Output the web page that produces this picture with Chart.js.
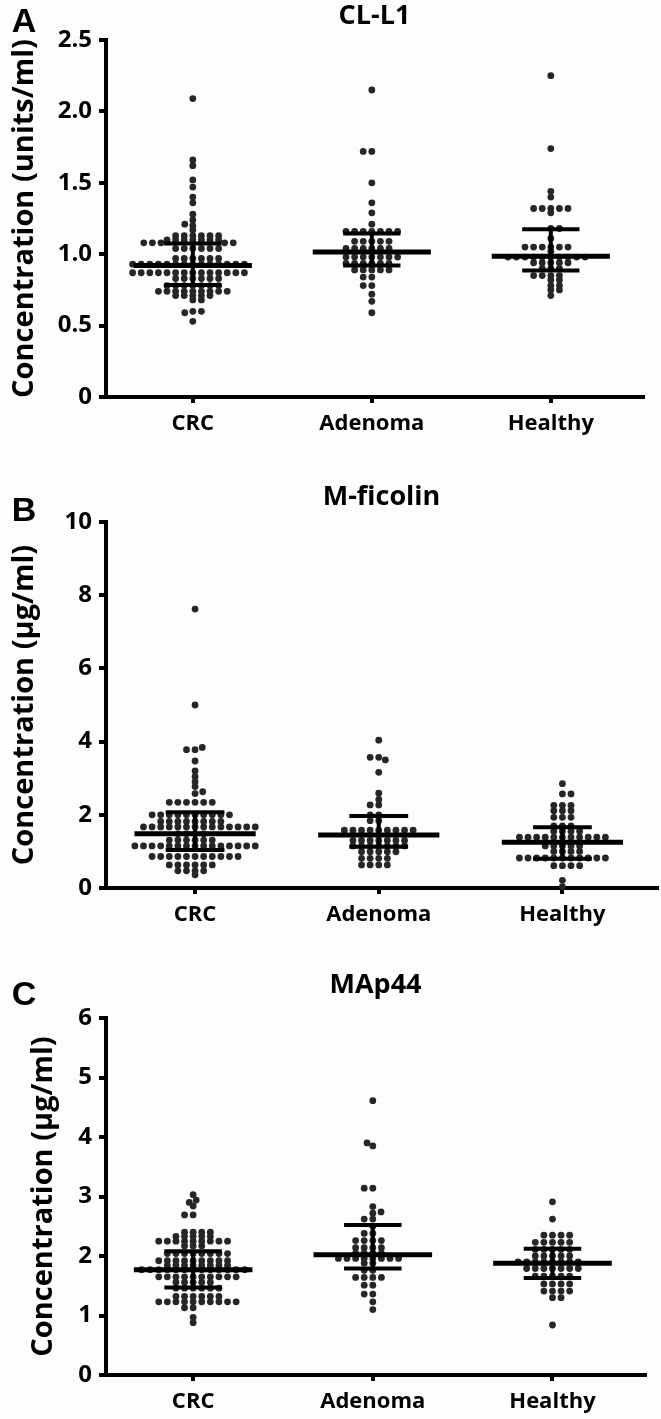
<!DOCTYPE html>
<html>
<head>
<meta charset="utf-8">
<script src="https://cdn.jsdelivr.net/npm/chart.js@4.4.1/dist/chart.umd.min.js"></script>
<style>
  body { margin: 0; background: #fdfdfd; }
  canvas { display: block; }
</style>
</head>
<body>
<canvas id="chartA" width="661" height="460"></canvas>
<canvas id="chartB" width="661" height="480"></canvas>
<canvas id="chartC" width="661" height="479"></canvas>
<script>
const groups = ["CRC", "Adenoma", "Healthy"];

// A: CL-L1 (units/ml)
const clCRC = [2.09, 1.66, 1.62, 1.52, 1.47, 1.40, 1.36, 1.28, 1.24, 1.21, 1.20, 1.17,
  1.13, 1.13, 1.13, 1.13, 1.13, 1.13,
  1.10, 1.10, 1.10, 1.10, 1.10, 1.10, 1.10,
  1.08, 1.08, 1.08, 1.08, 1.08,
  1.04, 1.04, 1.04, 1.04, 1.04, 1.04,
  0.97, 0.97, 0.97, 0.97, 0.97, 0.97,
  0.93, 0.93, 0.93, 0.93, 0.93, 0.93, 0.93, 0.93, 0.93, 0.93, 0.93, 0.93, 0.93, 0.93,
  0.87, 0.87, 0.87, 0.87, 0.87, 0.87, 0.87, 0.87, 0.87, 0.87, 0.87, 0.87, 0.87, 0.87,
  0.83, 0.83, 0.83, 0.83, 0.83, 0.83,
  0.78, 0.78, 0.78, 0.78, 0.78, 0.78, 0.78,
  0.74, 0.74, 0.74, 0.74, 0.74, 0.74, 0.74, 0.74, 0.74,
  0.71, 0.71, 0.71, 0.71, 0.71,
  0.68, 0.68, 0.60, 0.60, 0.59, 0.53];
const clAdenoma = [2.15, 1.72, 1.72, 1.50, 1.36, 1.29, 1.21,
  1.16, 1.16, 1.16, 1.16, 1.16, 1.16, 1.16,
  1.09, 1.09, 1.09, 1.09, 1.09,
  1.04, 1.04, 1.04, 1.04, 1.04, 1.04,
  0.98, 0.98, 0.98, 0.98, 0.98, 0.98, 0.98,
  0.935, 0.935, 0.935, 0.935, 0.935, 0.935,
  0.89, 0.89, 0.89, 0.89, 0.89,
  0.84, 0.84, 0.78, 0.78, 0.72, 0.67, 0.59];
const clHealthy = [2.25, 1.74, 1.44, 1.40, 1.32, 1.32, 1.32, 1.32, 1.32, 1.29, 1.18, 1.18, 1.11,
  1.05, 1.05, 1.05, 1.05, 1.05, 1.05, 1.02,
  0.98, 0.98, 0.98, 0.98, 0.98, 0.98, 0.98, 0.98, 0.98, 0.98,
  0.94, 0.94, 0.94, 0.94, 0.94,
  0.90, 0.90, 0.90, 0.85, 0.85, 0.85, 0.85,
  0.82, 0.82, 0.78, 0.78, 0.75, 0.75, 0.71];
const clMedian = [0.92, 1.015, 0.985];
const clQ1 = [0.785, 0.92, 0.885];
const clQ3 = [1.075, 1.145, 1.175];
const clTicks = ["0", "0.5", "1.0", "1.5", "2.0", "2.5"];

// B: M-ficolin (µg/ml)
const mfCRC = [7.62, 5.0, 3.84, 3.78, 3.78, 3.47, 3.20, 3.04, 2.90, 2.77, 2.63, 2.58,
  2.34, 2.34, 2.34, 2.34, 2.34, 2.34,
  2.0, 2.0, 2.0, 2.0, 2.0, 2.0, 2.0, 2.0, 2.0, 2.0,
  1.82, 1.82, 1.82, 1.82, 1.82, 1.82, 1.82, 1.82,
  1.67, 1.67, 1.67, 1.67, 1.67, 1.67, 1.67, 1.67, 1.67, 1.67, 1.67, 1.67, 1.67, 1.67,
  1.48, 1.48, 1.48, 1.48,
  1.31, 1.31, 1.31, 1.31, 1.31, 1.31,
  1.15, 1.15, 1.15, 1.15, 1.15, 1.15, 1.15, 1.15, 1.15, 1.15, 1.15, 1.15, 1.15, 1.15, 1.15,
  0.86, 0.86, 0.86, 0.86, 0.86, 0.86, 0.86, 0.86, 0.86, 0.86, 0.86,
  0.63, 0.63, 0.63, 0.63, 0.63, 0.63,
  0.47, 0.47, 0.47, 0.47, 0.36];
const mfAdenoma = [4.04, 3.57, 3.57, 3.50, 3.16, 2.59, 2.42, 2.27, 2.27, 2.0, 2.0, 1.84, 1.84,
  1.58, 1.58, 1.58, 1.58, 1.58, 1.58, 1.58, 1.58, 1.58,
  1.30, 1.30, 1.30, 1.30, 1.30, 1.30, 1.30,
  1.15, 1.15, 1.15, 1.15, 1.15, 1.15, 1.15,
  0.99, 0.99, 0.99, 0.99, 0.99,
  0.81, 0.81, 0.81, 0.81,
  0.63, 0.63, 0.63, 0.63];
const mfHealthy = [2.85, 2.57, 2.57, 2.26, 2.26, 2.26, 2.11, 2.11, 2.11, 1.93, 1.93, 1.93,
  1.70, 1.70, 1.70, 1.55, 1.55, 1.55, 1.55,
  1.39, 1.39, 1.39, 1.39, 1.39, 1.39, 1.39, 1.39, 1.39, 1.39, 1.39,
  1.15, 1.15, 1.15, 1.15, 1.15,
  1.0, 1.0, 1.0, 1.0,
  0.82, 0.82, 0.82, 0.82, 0.82, 0.82, 0.82, 0.82, 0.82, 0.82, 0.82,
  0.61, 0.61, 0.61, 0.61, 0.21, 0.04];
const mfMedian = [1.48, 1.45, 1.25];
const mfQ1 = [1.04, 1.13, 0.80];
const mfQ3 = [2.07, 1.97, 1.66];
const mfTicks = ["0", "2", "4", "6", "8", "10"];

// C: MAp44 (µg/ml)
const mapCRC = [3.03, 2.94, 2.90, 2.84, 2.69, 2.69,
  2.40, 2.40, 2.40, 2.40,
  2.33, 2.33, 2.33, 2.33, 2.33,
  2.25, 2.25, 2.25, 2.25, 2.25, 2.25, 2.25, 2.25, 2.25,
  2.17, 2.17, 2.17,
  2.04, 2.04, 2.04, 2.04, 2.04, 2.04, 2.04, 2.04,
  1.92, 1.92, 1.92, 1.92, 1.92, 1.92, 1.92, 1.92, 1.92,
  1.84, 1.84, 1.84, 1.84, 1.84, 1.84, 1.84, 1.84,
  1.77, 1.77, 1.77, 1.77, 1.77, 1.77, 1.77, 1.77, 1.77, 1.77, 1.77, 1.77, 1.77,
  1.65, 1.65, 1.65, 1.65, 1.65, 1.65, 1.65, 1.65, 1.65, 1.65,
  1.56, 1.56, 1.56, 1.56, 1.56,
  1.46, 1.46, 1.46, 1.46, 1.46, 1.46,
  1.32, 1.32, 1.32, 1.32, 1.32, 1.32,
  1.23, 1.23, 1.23, 1.23, 1.23, 1.23, 1.23, 1.23, 1.23, 1.23,
  1.13, 1.13, 0.97, 0.88];
const mapAdenoma = [4.61, 3.90, 3.85, 3.14, 3.14, 2.83, 2.74, 2.72, 2.62, 2.62, 2.50, 2.38, 2.38,
  2.26, 2.26, 2.26, 2.26, 2.14, 2.14, 2.14, 2.14, 2.05, 2.05, 2.05, 2.05,
  1.96, 1.96, 1.96, 1.96, 1.96, 1.96, 1.96, 1.96,
  1.88, 1.88, 1.76, 1.76, 1.64, 1.64, 1.64, 1.64,
  1.51, 1.51, 1.36, 1.36, 1.23, 1.10];
const mapHealthy = [2.91, 2.62, 2.35, 2.35, 2.35, 2.35,
  2.23, 2.23, 2.23, 2.23, 2.23, 2.11, 2.11, 2.11, 2.11, 2.11,
  2.0, 2.0, 2.0, 2.0, 2.0,
  1.90, 1.90, 1.90, 1.90, 1.90, 1.90, 1.90, 1.90,
  1.79, 1.79, 1.79, 1.79, 1.79, 1.79, 1.79,
  1.66, 1.66, 1.66, 1.66, 1.66,
  1.53, 1.53, 1.53, 1.53, 1.41, 1.41, 1.41, 1.41, 1.30, 1.30, 0.84];
const mapMedian = [1.77, 2.02, 1.88];
const mapQ1 = [1.47, 1.79, 1.63];
const mapQ3 = [2.08, 2.52, 2.12];
const mapTicks = ["0", "1", "2", "3", "4", "5", "6"];

const MED_HALF = 0.33, CAP_HALF = 0.16;
// dots in one row sit GAP_X apart; rows further than GAP_Y apart do not push each other
const GAP_X = 8.6, GAP_Y = 4;

Chart.defaults.font.family = "'Open Sans', sans-serif";
Chart.defaults.font.weight = "bold";
Chart.defaults.color = "#000";

const panelLetter = {
  id: "panelLetter",
  afterDraw(chart, args, opts) {
    const c = chart.ctx;
    c.save();
    c.font = "bold 34px 'Liberation Sans', Arial, sans-serif";
    c.fillStyle = "#000";
    c.textAlign = "center";
    c.textBaseline = "middle";
    c.fillText(opts.text, opts.x, opts.y);
    c.restore();
  }
};

function swarm(chart, groupVals, medians) {
  const xs = chart.scales.x, ys = chart.scales.y;
  const unit = xs.getPixelForValue(1) - xs.getPixelForValue(0);
  const clash = (q, px, py) => ((q.px - px) / GAP_X) ** 2 + ((q.py - py) / GAP_Y) ** 2 < 0.999;
  const out = [];
  groupVals.forEach((vals, gi) => {
    const counts = new Map();
    vals.forEach(v => counts.set(v, (counts.get(v) || 0) + 1));
    const order = [...vals].sort((a, b) =>
      counts.get(b) - counts.get(a) || Math.abs(a - medians[gi]) - Math.abs(b - medians[gi]) || a - b);
    const placed = [];
    order.forEach((v, n) => {
      const py = ys.getPixelForValue(v);
      const cands = [0];
      placed.forEach(q => {
        const dy = Math.abs(q.py - py);
        if (dy < GAP_Y) {
          const dx = GAP_X * Math.sqrt(1 - (dy / GAP_Y) ** 2);
          cands.push(q.px + dx, q.px - dx);
        }
      });
      const free = cands.filter(c => !placed.some(q => clash(q, c, py)));
      free.sort((a, b) => {
        const d = Math.round(Math.abs(a) * 10) - Math.round(Math.abs(b) * 10);
        if (d !== 0) return d;
        return n % 2 ? a - b : b - a;
      });
      const px = free[0];
      placed.push({px: px, py: py});
      out.push({x: gi + px / unit, y: v});
    });
  });
  return out;
}

function buildPanel(id, p) {
  const ctx = document.getElementById(id).getContext("2d");
  const medians = [], iqr = [];
  p.median.forEach((m, i) => {
    medians.push({x: i - MED_HALF, y: m}, {x: i + MED_HALF, y: m}, {x: i, y: null});
    iqr.push({x: i - CAP_HALF, y: p.q3[i]}, {x: i + CAP_HALF, y: p.q3[i]}, {x: i, y: null});
    iqr.push({x: i - CAP_HALF, y: p.q1[i]}, {x: i + CAP_HALF, y: p.q1[i]}, {x: i, y: null});
    iqr.push({x: i, y: p.q1[i]}, {x: i, y: p.q3[i]}, {x: i, y: null});
  });
  const dots = [];
  p.values.forEach((vals, i) => vals.forEach(v => dots.push({x: i, y: v})));

  const axisGrid = tl => ({
    display: true, drawOnChartArea: false, drawTicks: true,
    tickLength: tl, lineWidth: 4, color: "#000"
  });

  const chart = new Chart(ctx, {
    type: "scatter",
    data: {
      datasets: [
        {data: medians, showLine: true, borderColor: "#000", borderWidth: 5, pointRadius: 0, order: 0},
        {data: iqr, showLine: true, borderColor: "#000", borderWidth: 4, pointRadius: 0, order: 1},
        {data: dots, pointRadius: 3.4, backgroundColor: "#262626", borderWidth: 0, order: 2, clip: false}
      ]
    },
    options: {
      responsive: false,
      animation: false,
      events: [],
      layout: {padding: {left: p.padLeft, right: p.padRight, top: 0, bottom: 0}},
      plugins: {
        legend: {display: false},
        tooltip: {enabled: false},
        title: {
          display: true, text: p.title, fullSize: false, color: "#000",
          font: {size: 27, weight: "bold"},
          padding: {top: p.titleTop, bottom: p.titleBottom}
        },
        panelLetter: p.letter
      },
      scales: {
        x: {
          type: "linear", min: -0.485, max: 2.515,
          afterBuildTicks: s => { s.ticks = groups.map((g, i) => ({value: i})); },
          afterFit: s => { s.height = p.xHeight; },
          ticks: {
            callback: v => groups[v], color: "#000",
            font: {size: 22, weight: "bold"}, padding: 8, maxRotation: 0, autoSkip: false
          },
          grid: axisGrid(6),
          border: {display: true, color: "#000", width: 4}
        },
        y: {
          min: 0, max: p.yMax,
          afterFit: s => { s.width = 106 - p.padLeft; },
          ticks: {
            stepSize: p.yStep, callback: (v, i) => p.yLabels[i], color: "#000",
            font: {size: 24, weight: "bold"}, padding: 7
          },
          title: {
            display: true, text: p.yTitle, color: "#000",
            font: {size: 29, weight: "bold"}, padding: {top: 0, bottom: 0}
          },
          grid: axisGrid(7),
          border: {display: true, color: "#000", width: 4}
        }
      }
    },
    plugins: [panelLetter]
  });

  chart.data.datasets[2].data = swarm(chart, p.values, p.median);
  chart.update("none");
  return chart;
}

buildPanel("chartA", {
  title: "CL-L1", letter: {text: "A", x: 24, y: 23},
  values: [clCRC, clAdenoma, clHealthy], median: clMedian, q1: clQ1, q3: clQ3,
  yMax: 2.5, yStep: 0.5, yLabels: clTicks, yTitle: "Concentration (units/ml)",
  padLeft: 7.6, padRight: 18, titleTop: 0, titleBottom: 7.6, xHeight: 63
});
buildPanel("chartB", {
  title: "M-ficolin", letter: {text: "B", x: 24, y: 52},
  values: [mfCRC, mfAdenoma, mfHealthy], median: mfMedian, q1: mfQ1, q3: mfQ3,
  yMax: 10, yStep: 2, yLabels: mfTicks, yTitle: "Concentration (µg/ml)",
  padLeft: 7.6, padRight: 3, titleTop: 20.8, titleBottom: 8.8, xHeight: 52
});
buildPanel("chartC", {
  title: "MAp44", letter: {text: "C", x: 24, y: 56},
  values: [mapCRC, mapAdenoma, mapHealthy], median: mapMedian, q1: mapQ1, q3: mapQ3,
  yMax: 6, yStep: 1, yLabels: mapTicks, yTitle: "Concentration (µg/ml)",
  padLeft: 26.6, padRight: 16, titleTop: 28.8, titleBottom: 16.8, xHeight: 44
});
</script>
</body>
</html>
